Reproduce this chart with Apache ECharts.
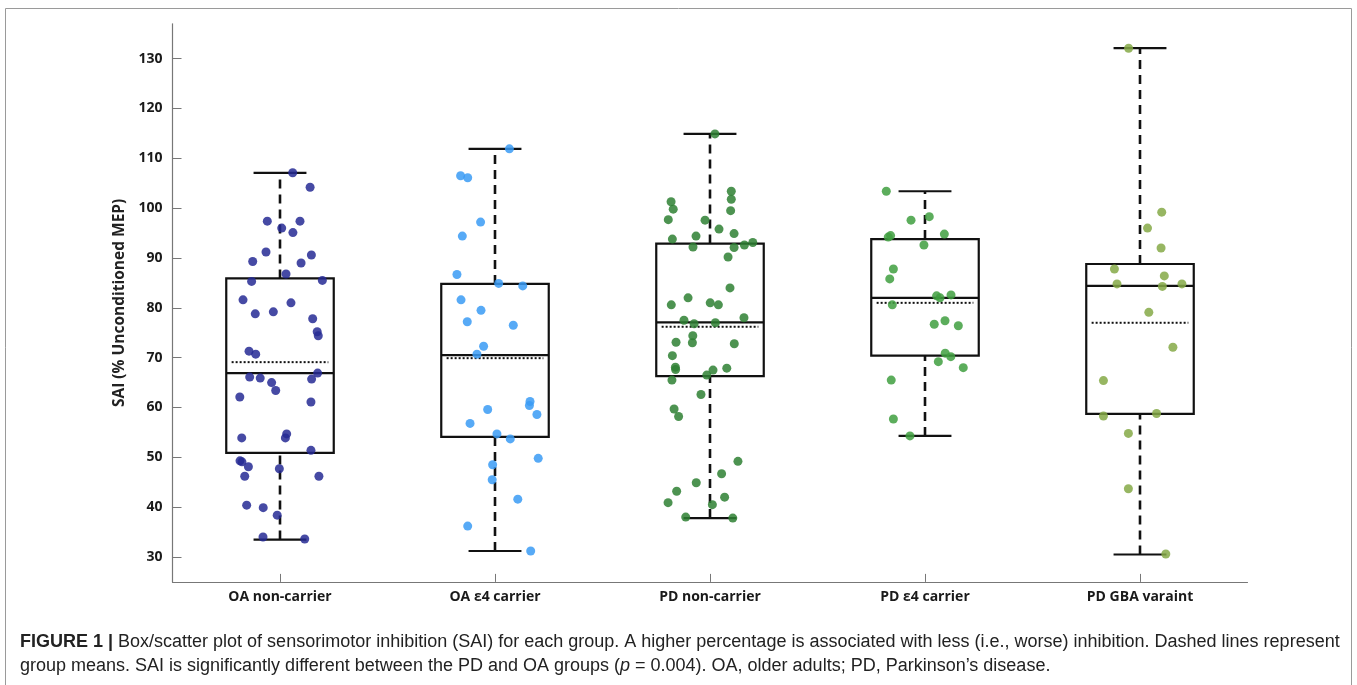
<!DOCTYPE html>
<html>
<head>
<meta charset="utf-8">
<script src="https://cdn.jsdelivr.net/npm/echarts@6/dist/echarts.min.js"></script>
<style>
html,body{margin:0;padding:0;background:#fff;}
#chart{width:1357px;height:685px;}
</style>
</head>
<body>
<div id="chart"></div>
<script>
// ---------- data ----------
const categories = ['OA non-carrier', 'OA \u03b54 carrier', 'PD non-carrier', 'PD \u03b54 carrier', 'PD GBA varaint'];
const yTicks = [30, 40, 50, 60, 70, 80, 90, 100, 110, 120, 130];

// box statistics per group
const whiskerLow  = [33.5, 31.2, 37.8, 54.3, 30.5];
const quartile1   = [50.9, 54.1, 66.3, 70.4, 58.7];
const medians     = [66.9, 70.5, 77.1, 82.0, 84.4];
const quartile3   = [85.9, 84.8, 92.9, 93.8, 88.8];
const whiskerHigh = [107.1, 111.9, 114.9, 103.4, 132.1];
const means       = [69.1, 69.9, 76.2, 81.0, 77.0];

// individual subjects (value) and horizontal jitter (fraction of category band)
const g1Values = [107.1,104.2,97.4,97.4,96.0,95.1,91.2,90.6,89.3,89.0,86.8,85.3,85.5,81.6,81.0,78.8,79.2,77.8,75.2,74.4,71.3,70.7,66.9,66.1,65.9,65.7,65.0,63.4,62.1,61.1,54.7,53.9,53.9,51.4,49.3,49.1,48.1,47.7,46.2,46.2,40.4,39.9,38.4,34.0,33.6];
const g1Jitter = [0.059,0.140,-0.059,0.093,0.008,0.060,-0.065,0.146,-0.127,0.098,0.028,-0.132,0.197,-0.172,0.051,-0.115,-0.031,0.152,0.173,0.178,-0.144,-0.113,0.175,-0.141,-0.092,0.147,-0.039,-0.020,-0.187,0.144,0.031,-0.178,0.025,0.144,-0.186,-0.177,-0.147,-0.003,-0.164,0.181,-0.155,-0.078,-0.013,-0.079,0.115];

const g2Values = [111.9,106.5,106.1,97.2,94.4,86.7,84.9,84.4,81.6,79.5,77.2,76.5,72.3,70.7,61.2,60.4,59.6,58.6,56.8,54.7,53.7,49.8,48.5,45.5,41.6,36.2,31.2];
const g2Jitter = [0.067,-0.160,-0.127,-0.067,-0.152,-0.177,0.017,0.129,-0.158,-0.065,-0.129,0.085,-0.053,-0.084,0.163,0.160,-0.034,0.195,-0.116,0.009,0.071,0.201,-0.011,-0.013,0.106,-0.127,0.166];

const g3Values = [114.9,103.4,101.3,101.8,99.8,99.5,97.7,97.6,95.8,94.9,94.4,93.8,92.2,92.1,92.6,93.1,90.2,84.0,82.0,80.6,81.0,80.6,78.0,77.5,76.8,77.0,74.4,73.0,73.1,72.8,70.4,68.1,67.6,67.9,67.5,66.5,65.5,62.6,59.7,58.2,49.2,46.7,44.9,43.2,42.0,40.9,40.5,38.0,37.8];
const g3Jitter = [0.023,0.099,-0.181,0.099,-0.171,0.096,-0.194,-0.023,0.042,0.112,-0.065,-0.175,-0.079,0.112,0.160,0.199,0.084,0.093,-0.102,-0.180,0.001,0.039,0.158,-0.121,-0.074,0.025,-0.080,-0.082,-0.158,0.113,-0.175,-0.161,-0.160,0.078,0.014,-0.015,-0.177,-0.042,-0.167,-0.146,0.130,0.054,-0.064,-0.155,0.068,-0.195,0.011,-0.113,0.106];

const g4Values = [103.4,98.3,97.6,94.5,94.2,94.8,92.6,87.8,85.8,82.4,82.6,82.0,80.6,77.4,76.7,76.4,70.9,70.2,69.2,68.0,65.5,57.7,54.3];
const g4Jitter = [-0.180,0.020,-0.065,-0.160,-0.171,0.090,-0.005,-0.147,-0.164,0.054,0.121,0.070,-0.152,0.093,0.043,0.155,0.094,0.120,0.062,0.178,-0.157,-0.147,-0.070];

const g5Values = [132.1,99.2,96.0,92.0,87.8,86.4,84.8,84.3,84.8,79.1,72.1,65.4,58.3,58.8,54.8,43.7,30.6];
const g5Jitter = [-0.053,0.101,0.035,0.098,-0.119,0.113,-0.107,0.104,0.195,0.041,0.153,-0.170,-0.170,0.077,-0.054,-0.054,0.120];

const groupColors = ['#262A94', '#3A9BF5', '#2E8032', '#3F9F40', '#85A947'];

// ---------- build options ----------
const groups = [[g1Values,g1Jitter],[g2Values,g2Jitter],[g3Values,g3Jitter],[g4Values,g4Jitter],[g5Values,g5Jitter]];
const boxData = categories.map((c, i) => [i, whiskerLow[i], quartile1[i], medians[i], quartile3[i], whiskerHigh[i], means[i]]);

function renderBox(params, api) {
  const i = api.value(0);
  const lo = api.value(1), q1 = api.value(2), md = api.value(3), q3 = api.value(4), hi = api.value(5), mn = api.value(6);
  const c = (x, y) => api.coord([x, y]);
  const bw = 0.25, cw = 0.123, mw = 0.225;
  const tl = c(i - bw, q3), br = c(i + bw, q1);
  const solid = {stroke: '#111', lineWidth: 2.2, fill: null};
  const dashed = {stroke: '#111', lineWidth: 2.6, lineDash: [9, 6], fill: null};
  const dotted = {stroke: '#111', lineWidth: 2, lineDash: [2, 2], fill: null};
  const line = (a, b, style) => ({type: 'line', shape: {x1: a[0], y1: a[1], x2: b[0], y2: b[1]}, style: style});
  return {
    type: 'group',
    children: [
      line(c(i, q3), c(i, hi), dashed),
      line(c(i, lo), c(i, q1), dashed),
      line(c(i - cw, hi), c(i + cw, hi), solid),
      line(c(i - cw, lo), c(i + cw, lo), solid),
      {type: 'rect', shape: {x: tl[0], y: tl[1], width: br[0] - tl[0], height: br[1] - tl[1]}, style: {stroke: '#111', lineWidth: 2.2, fill: 'rgba(0,0,0,0)'}},
      line(c(i - mw, mn), c(i + mw, mn), dotted),
      line(c(i - bw, md), c(i + bw, md), solid)
    ]
  };
}

const series = [{
  type: 'custom',
  xAxisIndex: 1,
  yAxisIndex: 0,
  renderItem: renderBox,
  data: boxData,
  z: 2,
  silent: true
}];
groups.forEach((g, gi) => {
  series.push({
    type: 'scatter',
    xAxisIndex: 1,
    yAxisIndex: 0,
    symbolSize: 9,
    itemStyle: {color: groupColors[gi], opacity: 0.85},
    data: g[0].map((v, k) => [gi + g[1][k], v]),
    z: 3,
    silent: true
  });
});

// caption fitting
const captionFont = '"Liberation Sans", Arial, sans-serif';
const cap1Bold = 'FIGURE 1 | ';
const cap1Rest = 'Box/scatter plot of sensorimotor inhibition (SAI) for each group. A higher percentage is associated with less (i.e., worse) inhibition. Dashed lines represent';
const cap2a = 'group means. SAI is significantly different between the PD and OA groups (';
const cap2p = 'p';
const cap2b = ' = 0.004). OA, older adults; PD, Parkinson\u2019s disease.';
const cv = document.createElement('canvas').getContext('2d');
function w(txt, fs, weight) { cv.font = (weight || 'normal') + ' ' + fs + 'px ' + captionFont; return cv.measureText(txt).width; }
const targetW = 1320;
const w15 = w(cap1Bold, 15, 'bold') + w(cap1Rest, 15);
const fs = 15 * targetW / w15;

const chart = echarts.init(document.getElementById('chart'), null, {renderer: 'canvas'});
chart.setOption({
  animation: false,
  backgroundColor: '#fff',
  grid: {left: 172.5, right: 109.5, top: 23.8, bottom: 103.1, containLabel: false},
  xAxis: [{
    type: 'category',
    data: categories,
    boundaryGap: true,
    axisLine: {lineStyle: {color: '#777', width: 1.2}},
    axisTick: {show: true, inside: true, alignWithLabel: true, length: 8, lineStyle: {color: '#777'}},
    axisLabel: {color: '#1a1a1a', fontWeight: 'bold', fontSize: 14, fontFamily: '"Open Sans", "Liberation Sans", sans-serif', margin: 8},
    splitLine: {show: false}
  }, {
    type: 'value',
    min: -0.5, max: 4.5,
    show: false
  }],
  yAxis: [{
    type: 'value',
    min: 25, max: 137,
    name: 'SAI (% Unconditioned MEP)',
    nameLocation: 'middle',
    nameGap: 42,
    nameTextStyle: {color: '#222', fontWeight: 'bold', fontSize: 15.5, fontFamily: '"Open Sans", "Liberation Sans", sans-serif'},
    axisLine: {show: true, onZero: false, lineStyle: {color: '#777', width: 1.2}},
    axisTick: {show: true, inside: true, length: 9, lineStyle: {color: '#777'}, customValues: yTicks},
    axisLabel: {color: '#1a1a1a', fontWeight: 'bold', fontSize: 14, fontFamily: '"Open Sans", "Liberation Sans", sans-serif', margin: 10, customValues: yTicks},
    splitLine: {show: false}
  }],
  series: series,
  graphic: [
    {type: 'rect', shape: {x: 5.5, y: 8.5, width: 1346, height: 700}, style: {fill: null, stroke: '#9a9a9a', lineWidth: 1}, silent: true, z: 0},
    {type: 'text', left: 20, top: 633, style: {
      text: '{b|' + cap1Bold + '}{n|' + cap1Rest + '}',
      rich: {
        b: {fontWeight: 'bold', fontSize: fs, fontFamily: captionFont, fill: '#222'},
        n: {fontSize: fs, fontFamily: captionFont, fill: '#222'}
      }
    }},
    {type: 'text', left: 20, top: 657, style: {
      text: '{n|' + cap2a + '}{i|' + cap2p + '}{n|' + cap2b + '}',
      rich: {
        n: {fontSize: fs, fontFamily: captionFont, fill: '#222'},
        i: {fontSize: fs, fontStyle: 'italic', fontFamily: captionFont, fill: '#222'}
      }
    }}
  ]
});
</script>
</body>
</html>
